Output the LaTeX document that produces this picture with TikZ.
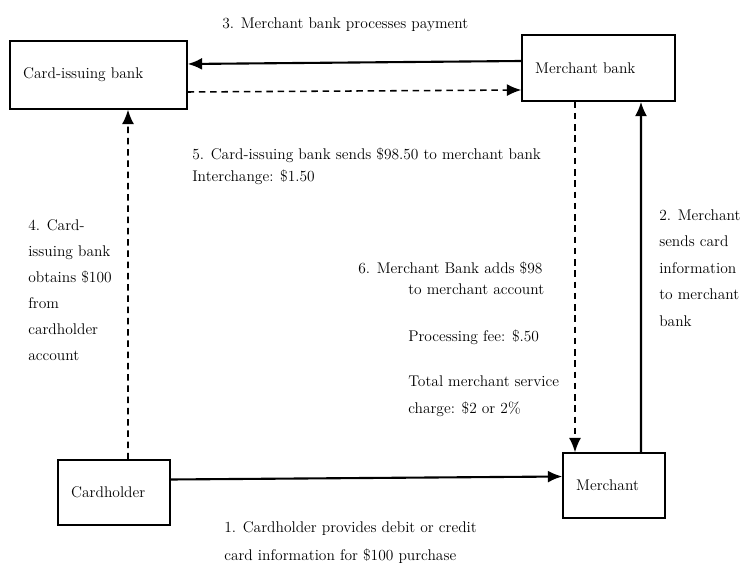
\documentclass[tikz,border=0pt]{standalone}
\usetikzlibrary{arrows.meta,calc}

\begin{document}
\begin{tikzpicture}[x=0.025cm,y=-0.025cm,
		box/.style={draw,line width=1pt,inner xsep=0.33cm,inner ysep=0pt,align=left,font=\fontsize{11}{13}\selectfont},
		info/.style={line width=1.5pt,-{Latex[length=3.6mm,width=3mm]}},
		funds/.style={line width=1.1pt,dash pattern=on 4.5pt off 3.5pt,-{Latex[length=3.6mm,width=3mm]}},
		note/.style={anchor=north west,inner sep=0pt,align=left,font=\fontsize{11}{18.5}\selectfont}]
		\useasboundingbox (0,0) rectangle (745,563);

		% the four parties
		\node[box,text width=3.765cm,minimum height=1.7cm]		(issuer)	at (98.5,75)	{Card-issuing bank};
		\node[box,text width=3.165cm,minimum height=1.65cm]		(mbank)		at (598.5,68)	{Merchant bank};
		\node[box,text width=2.14cm,minimum height=1.625cm]		(holder)	at (114,492.5)	{Cardholder};
		\node[box,text width=1.89cm,minimum height=1.625cm]		(merchant)	at (614,485.5)	{Merchant};

		% the steps
		\node[note]									(lab3)	at (222,17.5)	{3. Merchant bank processes payment};
		\node[note,font=\fontsize{11}{15.6}\selectfont]	(lab5)	at (192,147.5)	{5. Card-issuing bank sends \$98.50 to merchant bank\\Interchange: \$1.50};
		\node[note]									(lab4)	at (28,219.5)	{4. Card-\\issuing bank\\obtains \$100\\from\\cardholder\\account};
		\node[note,font=\fontsize{11}{18.8}\selectfont]	(lab2)	at (659,209.5)	{2. Merchant\\sends card\\information\\to merchant\\bank};
		\node[note,font=\fontsize{11}{15}\selectfont]	(lab6)	at (358,261.5)	{6. Merchant Bank adds \$98\\\hspace*{1.25cm}to merchant account};
		\node[note,font=\fontsize{11}{19.2}\selectfont]	(fees)	at (408,329.5)	{Processing fee: \$.50\\[12.8pt]Total merchant service\\charge: \$2 or 2\%};
		\node[note,font=\fontsize{11}{20}\selectfont]	(lab1)	at (224,521.5)	{1. Cardholder provides debit or credit\\card information for \$100 purchase};

		\draw[info] ($(holder.east)+(0,-13)$) -- ($(merchant.west)+(0,-9)$);
		\draw[info] ($(merchant.north)+(27,0)$) -- ($(mbank.south)+(42.5,0)$);
		\draw[info] ($(mbank.west)+(0,-7)$) -- ($(issuer.east)+(0,-11)$);
		\draw[funds] ($(holder.north)+(14,0)$) -- ($(issuer.south)+(29.5,0)$);
		\draw[funds] ($(issuer.east)+(0,17)$) -- ($(mbank.west)+(0,22)$);
		\draw[funds] ($(mbank.south)+(-23.5,0)$) -- ($(merchant.north)+(-39,0)$);
	\end{tikzpicture}
\end{document}
